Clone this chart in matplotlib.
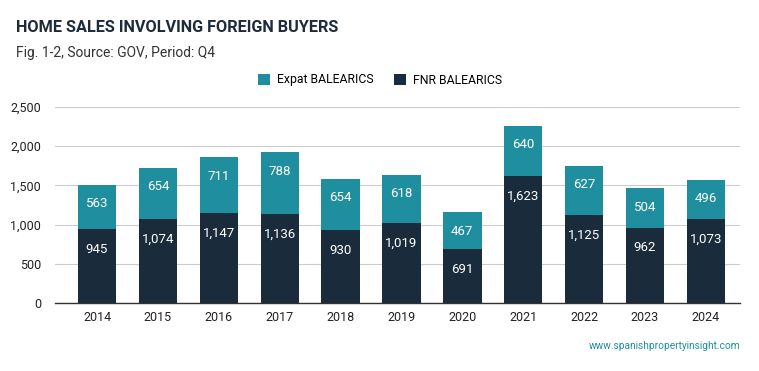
import matplotlib
matplotlib.use("Agg")
import matplotlib.pyplot as plt
from matplotlib.patches import Patch

years = ["2014", "2015", "2016", "2017", "2018", "2019", "2020", "2021", "2022", "2023", "2024"]
fnr = [945, 1074, 1147, 1136, 930, 1019, 691, 1623, 1125, 962, 1073]
expat = [563, 654, 711, 788, 654, 618, 467, 640, 627, 504, 496]

TEAL = "#1f8fa0"
DARK = "#1a2b3b"
TXT = "#1d2b3a"

plt.rcParams['font.family'] = ['Roboto', 'DejaVu Sans']

W, H = 759, 371
fig = plt.figure(figsize=(W / 100, H / 100), dpi=100)
ax = fig.add_axes([55 / W, 1 - 303 / H, (740 - 55) / W, (303 - 107) / H])

x = list(range(len(years)))
ax.bar(x, fnr, width=0.63, color=DARK, zorder=3)
ax.bar(x, expat, bottom=fnr, width=0.63, color=TEAL, zorder=3)

for i in x:
    ax.annotate(f"{fnr[i]:,}", (i, fnr[i]), xytext=(0, -10), textcoords="offset points",
                ha="center", va="top", color="white", fontsize=9.5, zorder=4)
    ax.annotate(f"{expat[i]:,}", (i, fnr[i] + expat[i]), xytext=(0, -9), textcoords="offset points",
                ha="center", va="top", color="white", fontsize=9.5, zorder=4)

ax.set_ylim(0, 2500)
ax.set_xlim(-0.69, 10.56)
ax.set_yticks([0, 500, 1000, 1500, 2000, 2500])
ax.set_yticklabels([f"{v:,}" for v in [0, 500, 1000, 1500, 2000, 2500]])
ax.set_xticks(x)
ax.set_xticklabels(years)
ax.grid(axis="y", color="#cccccc", linewidth=0.8, zorder=0)
for s in ["top", "right", "left"]:
    ax.spines[s].set_visible(False)
ax.spines["bottom"].set_color("#333333")
ax.spines["bottom"].set_linewidth(1.0)
ax.tick_params(axis="both", length=0, labelsize=9, colors="#222222")
ax.tick_params(axis="y", pad=10)
ax.tick_params(axis="x", pad=6)

fig.text(16 / W, 1 - 27 / H, "HOME SALES INVOLVING FOREIGN BUYERS", fontsize=11.7,
         fontweight="bold", color=TXT, va="center", ha="left")
fig.text(16 / W, 1 - 53 / H, "Fig. 1-2, Source: GOV, Period: Q4", fontsize=10,
         color="#333333", va="center", ha="left")

handles = [Patch(facecolor=TEAL, label="Expat BALEARICS"), Patch(facecolor=DARK, label="FNR BALEARICS")]
fig.legend(handles=handles, loc="center", bbox_to_anchor=(380 / W, 1 - 80 / H), ncol=2,
           frameon=False, fontsize=8.8, handlelength=1.0, handleheight=1.0, handletextpad=0.6,
           columnspacing=1.6)

fig.text(740 / W, 1 - 346 / H, "www.spanishpropertyinsight.com", fontsize=7.3, color=TEAL,
         ha="right", va="center")

fig.savefig("out.png", dpi=100)
